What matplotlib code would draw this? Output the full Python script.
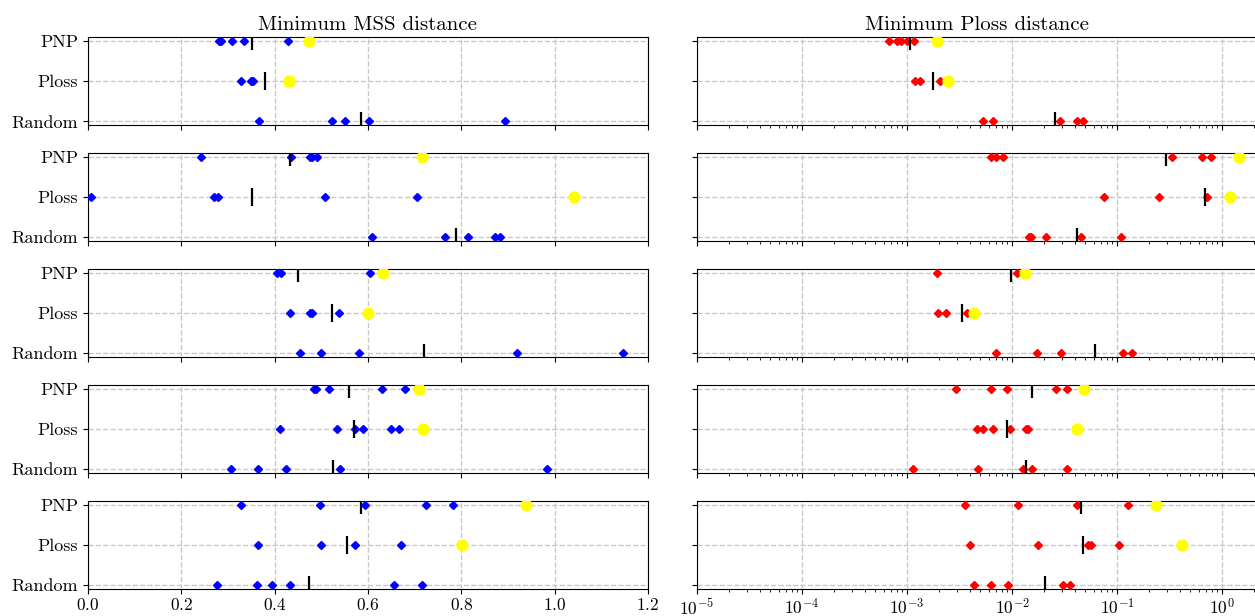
import numpy as np
import matplotlib
matplotlib.use('Agg')
import matplotlib.pyplot as plt

plt.rcParams['font.family'] = 'cmr10'
plt.rcParams['mathtext.fontset'] = 'cm'
plt.rcParams['axes.formatter.use_mathtext'] = True
plt.rcParams['axes.unicode_minus'] = False

# categories (bottom to top)
categories = ['Random', 'Ploss', 'PNP']

# Minimum MSS distance, one list per row
mss_pnp = [[0.280, 0.286, 0.308, 0.334, 0.429],
           [0.242, 0.435, 0.475, 0.481, 0.490],
           [0.404, 0.413, 0.605],
           [0.484, 0.488, 0.516, 0.630, 0.679],
           [0.3275, 0.498, 0.594, 0.724, 0.782]]
mss_ploss = [[0.3275, 0.350, 0.354],
             [0.006, 0.269, 0.278, 0.508, 0.704],
             [0.433, 0.476, 0.480, 0.538],
             [0.411, 0.533, 0.572, 0.589, 0.649, 0.667],
             [0.365, 0.500, 0.573, 0.670]]
mss_random = [[0.367, 0.522, 0.550, 0.603, 0.893],
              [0.608, 0.764, 0.814, 0.873, 0.882],
              [0.455, 0.499, 0.581, 0.920, 1.146],
              [0.307, 0.365, 0.425, 0.540, 0.983],
              [0.277, 0.363, 0.395, 0.433, 0.655, 0.716]]
mss_best_pnp = [0.473, 0.715, 0.633, 0.709, 0.939]
mss_best_ploss = [0.431, 1.041, 0.600, 0.717, 0.802]
mss_mean_pnp = [0.352, 0.432, 0.450, 0.559, 0.585]
mss_mean_ploss = [0.379, 0.352, 0.522, 0.569, 0.555]
mss_mean_random = [0.586, 0.788, 0.720, 0.525, 0.473]

# Minimum Ploss distance, one list per row
pl_pnp = [[6.7e-4, 8.0e-4, 8.8e-4, 9.9e-4, 1.17e-3],
          [6.34e-3, 7.0e-3, 8.19e-3, 0.336, 0.640, 0.780],
          [1.92e-3, 0.0111],
          [2.91e-3, 6.24e-3, 8.98e-3, 0.0261, 0.0337],
          [3.58e-3, 0.01148, 0.0411, 0.1265]]
pl_ploss = [[1.20e-3, 1.34e-3, 2.06e-3],
            [0.0745, 0.249, 0.713],
            [1.99e-3, 2.33e-3, 3.70e-3],
            [4.67e-3, 5.33e-3, 6.55e-3, 9.66e-3, 0.0137, 0.0141],
            [4.02e-3, 0.0178, 0.0526, 0.0562, 0.1054]]
pl_random = [[5.28e-3, 6.55e-3, 0.0285, 0.0418, 0.0473],
             [0.0146, 0.0151, 0.0212, 0.0457, 0.110],
             [7.11e-3, 0.0171, 0.0290, 0.1136, 0.1396],
             [1.15e-3, 4.78e-3, 0.01268, 0.01535, 0.0337],
             [4.30e-3, 6.28e-3, 9.19e-3, 0.0305, 0.0360]]
pl_best_pnp = [1.91e-3, 1.45, 0.0133, 0.0489, 0.233]
pl_best_ploss = [2.47e-3, 1.20, 4.33e-3, 0.0414, 0.413]
pl_mean_pnp = [1.06e-3, 0.294, 9.75e-3, 0.0156, 0.045]
pl_mean_ploss = [1.76e-3, 0.684, 3.35e-3, 8.98e-3, 0.0473]
pl_mean_random = [0.0258, 0.0414, 0.0617, 0.01344, 0.0205]

fig, axes = plt.subplots(5, 2, figsize=(12.55, 6.16), dpi=100,
                         gridspec_kw=dict(left=0.0701, right=1.0016, top=0.94,
                                          bottom=0.0438, hspace=0.31, wspace=0.0875))


def draw(ax, pnp, ploss, rand, best_pnp, best_ploss, m_pnp, m_ploss, m_rand, col):
    for y, vals in zip([2, 1, 0], [pnp, ploss, rand]):
        ax.plot(vals, [y] * len(vals), 'D', color=col, markersize=3.6, zorder=3)
    ax.plot([best_pnp, best_ploss], [2, 1], 'o', color='yellow', markersize=7.8, zorder=4)
    ax.plot([m_pnp, m_ploss, m_rand], [2, 1, 0], '|', color='black',
            markersize=12.5, markeredgewidth=1.6, zorder=5)
    ax.set_yticks([0, 1, 2])
    ax.set_ylim(-0.1, 2.1)
    ax.grid(True, linestyle='--', color='#c8c8c8', linewidth=1)
    ax.set_axisbelow(True)


for i in range(5):
    axl = axes[i, 0]
    axr = axes[i, 1]
    draw(axl, mss_pnp[i], mss_ploss[i], mss_random[i], mss_best_pnp[i], mss_best_ploss[i],
         mss_mean_pnp[i], mss_mean_ploss[i], mss_mean_random[i], 'blue')
    draw(axr, pl_pnp[i], pl_ploss[i], pl_random[i], pl_best_pnp[i], pl_best_ploss[i],
         pl_mean_pnp[i], pl_mean_ploss[i], pl_mean_random[i], 'red')
    axl.set_yticklabels(categories)
    axr.set_yticklabels([])
    axl.set_xlim(0, 1.2)
    axr.set_xscale('log')
    axr.set_xlim(1e-5, 2.15)
    axr.set_xticks([1e-5, 1e-4, 1e-3, 1e-2, 1e-1, 1e0])
    if i < 4:
        axl.set_xticklabels([])
        axr.set_xticklabels([], minor=False)
    for ax in (axl, axr):
        ax.tick_params(axis='y', labelsize=13)
        ax.tick_params(axis='x', labelsize=12.5, pad=2.5)

axes[0, 0].set_title('Minimum MSS distance', fontsize=15, pad=5)
axes[0, 1].set_title('Minimum Ploss distance', fontsize=15, pad=5)

plt.savefig('out.png', dpi=100)
